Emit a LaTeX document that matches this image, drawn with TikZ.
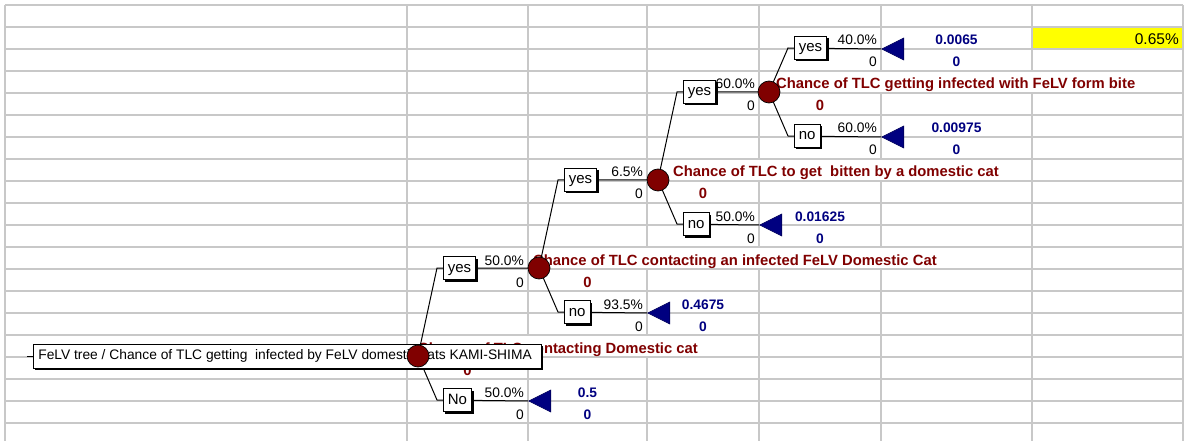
\documentclass[tikz,border=0pt]{standalone}
\usepackage{fontspec}
\setmainfont{Liberation Sans}
\usetikzlibrary{shapes.geometric,shadows}
\pgfdeclarelayer{grid}
\pgfdeclarelayer{labels}
\pgfdeclarelayer{background}
\pgfdeclarelayer{top}
\pgfsetlayers{grid,labels,background,main,top}
\definecolor{gridgray}{RGB}{200,200,200}
\definecolor{nodered}{RGB}{128,0,0}
\definecolor{navyblue}{RGB}{0,0,128}
\definecolor{cellyellow}{RGB}{255,255,0}
\begin{document}
\begin{tikzpicture}[x=1pt,y=-1pt,
  gridline/.style={draw=gridgray,line width=1.2pt},
  branch/.style={draw=black,line width=1pt},
  chance/.style={circle,fill=nodered,draw=black,line width=0.7pt,minimum size=22pt,inner sep=0pt},
  terminal/.style={isosceles triangle,isosceles triangle stretches,shape border rotate=180,minimum width=22pt,minimum height=22pt,inner sep=0pt,fill=navyblue,draw=navyblue!70!black,line width=0.6pt,anchor=apex},
  branchbox/.style={draw=black,fill=white,line width=0.7pt,inner xsep=4.5pt,inner ysep=4.5pt,text height=11pt,text depth=3pt,anchor=west,drop shadow={shadow xshift=2pt,shadow yshift=-2pt,fill=black,opacity=1},font=\fontsize{15}{17}\selectfont},
  titlebox/.style={draw=black,fill=white,line width=0.7pt,inner xsep=5pt,inner ysep=5.5pt,text height=10pt,text depth=3pt,anchor=west,drop shadow={shadow xshift=2pt,shadow yshift=-2pt,fill=black,opacity=1},font=\fontsize{13.8}{16}\selectfont},
  prob/.style={anchor=base east,inner sep=0pt,font=\fontsize{13.8}{16}\selectfont},
  payoff/.style={anchor=base,inner sep=0pt,text=navyblue,font=\bfseries\fontsize{13.8}{16}\selectfont},
  redlbl/.style={anchor=base west,inner xsep=0pt,inner ysep=0pt,text height=17pt,text depth=3pt,fill=white,text=nodered,font=\bfseries\fontsize{14.8}{17}\selectfont},
  redzero/.style={anchor=base,inner sep=0pt,text=nodered,font=\bfseries\fontsize{14.8}{17}\selectfont},
  resultlbl/.style={anchor=base east,inner sep=0pt,font=\fontsize{15.5}{18}\selectfont}
]
\useasboundingbox (0,0) rectangle (1184,441);

% spreadsheet grid
\begin{pgfonlayer}{grid}
\fill[cellyellow] (1032,27) rectangle (1183,49);
\foreach \k in {0,...,19} \draw[gridline] (5,{5+22*\k}) -- (1183,{5+22*\k});
\foreach \x in {5,407,528,647,759,881,1032,1183} \draw[gridline] (\x,5) -- (\x,441);
\end{pgfonlayer}

% texts
\begin{pgfonlayer}{labels}
\node[resultlbl] (result) at (1179,45) {0.65\%};
% chance node labels
\node[redlbl] (l0) at (418,353) {Chance of TLC contacting Domestic cat};
\node[redzero] (z0) at (467.5,375) {0};
\node[redlbl] (l1) at (533,265) {Chance of TLC contacting an infected FeLV Domestic Cat};
\node[redzero] (z1) at (587.5,287) {0};
\node[redlbl] (l2) at (673,177) {Chance of TLC to get\ \ bitten by a domestic cat};
\node[redzero] (z2) at (703,199) {0};
\node[redlbl] (l3) at (776,89) {Chance of TLC getting infected with FeLV form bite};
\node[redzero] (z3) at (820,111) {0};
% probabilities
\node[prob] (p1y) at (524,265) {50.0\%};
\node[prob] (q1y) at (524,287) {0};
\node[prob] (p1n) at (524,397) {50.0\%};
\node[prob] (q1n) at (524,419) {0};
\node[prob] (p2y) at (643,177) {6.5\%};
\node[prob] (q2y) at (643,199) {0};
\node[prob] (p2n) at (643,309) {93.5\%};
\node[prob] (q2n) at (643,331) {0};
\node[prob] (p3y) at (755,89) {60.0\%};
\node[prob] (q3y) at (755,111) {0};
\node[prob] (p3n) at (755,221) {50.0\%};
\node[prob] (q3n) at (755,243) {0};
\node[prob] (p4y) at (877,45) {40.0\%};
\node[prob] (q4y) at (877,67) {0};
\node[prob] (p4n) at (877,133) {60.0\%};
\node[prob] (q4n) at (877,155) {0};
% payoffs
\node[payoff] (v1) at (587.5,397) {0.5};
\node[payoff] (w1) at (587.5,419) {0};
\node[payoff] (v2) at (703,309) {0.4675};
\node[payoff] (w2) at (703,331) {0};
\node[payoff] (v3) at (820,221) {0.01625};
\node[payoff] (w3) at (820,243) {0};
\node[payoff] (v4) at (956.5,45) {0.0065};
\node[payoff] (w4) at (956.5,67) {0};
\node[payoff] (v5) at (956.5,133) {0.00975};
\node[payoff] (w5) at (956.5,155) {0};
\end{pgfonlayer}

% chance nodes
\node[chance] (c1) at (539,268) {};
\node[chance] (c2) at (658,180) {};
\node[chance] (c3) at (769,92) {};

% terminal nodes
\node[terminal] (t1) at (528,401) {};
\node[terminal] (t2) at (647,313) {};
\node[terminal] (t3) at (759,225) {};
\node[terminal] (t4) at (881,49) {};
\node[terminal] (t5) at (881,137) {};

% branch boxes
\node[branchbox] (b1y) at (443,268) {yes};
\node[branchbox] (b1n) at (443,400) {No};
\node[branchbox] (b2y) at (564,180) {yes};
\node[branchbox] (b2n) at (564,312) {no};
\node[branchbox] (b3y) at (683,92) {yes};
\node[branchbox] (b3n) at (683,224) {no};
\node[branchbox] (b4y) at (794,48) {yes};
\node[branchbox] (b4n) at (794,136) {no};

% title box and root
\begin{pgfonlayer}{top}
\node[titlebox] (title) at (33,356) {\makebox[498pt][l]{FeLV tree / Chance of TLC getting\ \ infected by FeLV domestic cats KAMI-SHIMA}};
\node[chance] (c0) at (418,356) {};
\end{pgfonlayer}

% corners
\coordinate (stub) at (27,356);
\coordinate (k1y) at (437,268);
\coordinate (k1n) at (437,400);
\coordinate (k2y) at (558,180);
\coordinate (k2n) at (558,312);
\coordinate (k3y) at (677,92);
\coordinate (k3n) at (677,224);
\coordinate (k4y) at (788,48);
\coordinate (k4n) at (788,136);

% connectors
\begin{pgfonlayer}{background}
\draw[branch] (stub) -- (title.west);
\draw[branch] (c0.center) -- (k1y) -- (c1.center);
\draw[branch] (c0.center) -- (k1n) -- (t1.apex);
\draw[branch] (c1.center) -- (k2y) -- (c2.center);
\draw[branch] (c1.center) -- (k2n) -- (t2.apex);
\draw[branch] (c2.center) -- (k3y) -- (c3.center);
\draw[branch] (c2.center) -- (k3n) -- (t3.apex);
\draw[branch] (c3.center) -- (k4y) -- (t4.apex);
\draw[branch] (c3.center) -- (k4n) -- (t5.apex);
\end{pgfonlayer}
\end{tikzpicture}
\end{document}
